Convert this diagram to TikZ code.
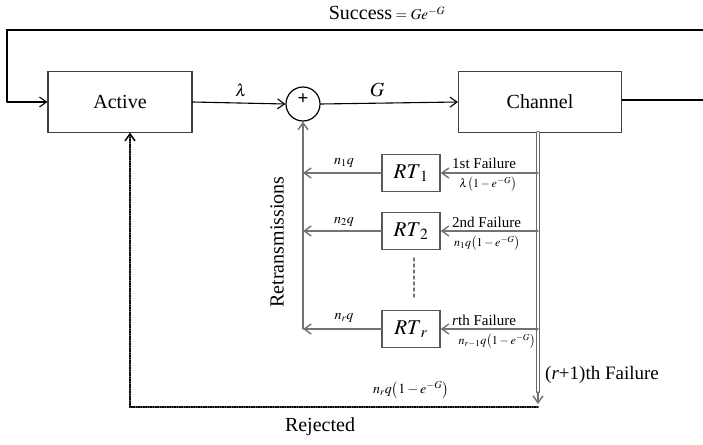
\documentclass[tikz,border=0pt]{standalone}
\usepackage{mathptmx}
\usepackage{fontspec}
\setmainfont{Liberation Serif}
\usetikzlibrary{arrows.meta}

\begin{document}
\begin{tikzpicture}[x=1pt,y=-1pt,cap=round,>={Straight Barb[length=7pt,width=10pt]},
        block/.style={draw=black!75,line width=1.2pt,inner sep=0pt,font=\fontsize{20}{22}\selectfont},
        rtbox/.style={draw=black!65,line width=1.3pt,minimum width=58pt,minimum height=37pt,inner sep=0pt,font=\fontsize{21}{23}\selectfont},
        retx/.style={draw=black!55,line width=1.4pt},
        lbl/.style={font=\fontsize{14}{16}\selectfont,inner sep=0pt},
        fail/.style={font=\fontsize{15}{17}\selectfont,inner sep=0pt,anchor=base west},
        rate/.style={font=\fontsize{12}{14}\selectfont,inner sep=0pt,anchor=north},
        big/.style={font=\fontsize{20}{22}\selectfont,inner sep=0pt}]
            \useasboundingbox (0,0) rectangle (703,444);

            % the main blocks
            \node[block,minimum width=144pt,minimum height=61pt] (active) at (120,102) {Active};
            \node[block,minimum width=163pt,minimum height=61pt] (channel) at (540,102) {Channel};
            \node[draw,circle,line width=1.2pt,minimum size=34pt,inner sep=0pt,
                label={[font=\bfseries\fontsize{19}{19}\selectfont,yshift=5pt]center:+}] (sum) at (303,104) {};

            % the retransmission boxes
            \node[rtbox] (rt1) at (411,173) {$RT_{\;1}$};
            \node[rtbox] (rt2) at (411,231) {$RT_{\;2}$};
            \node[rtbox] (rtr) at (411,329) {$RT_{\;r}$};

            % free ends of the connectors
            \coordinate (topr) at (703,30);
            \coordinate (topl) at (7,30);
            \coordinate (inl) at (7,102);
            \coordinate (outr) at (703,100);
            \coordinate (tap) at (538,132.6);
            \coordinate (tapend) at (538,392);
            \coordinate (tapbot) at (538,404);
            \coordinate (rejr) at (538,407);
            \coordinate (rejl) at (130,407);
            \coordinate (actin) at (130,132.6);
            \coordinate (retbot) at (303,329);

            % success loop
            \draw[line width=1.1pt] (topr) -- (topl) -- (inl);
            \draw[->,line width=1.1pt] (inl) -- (active.west);
            \draw[->,line width=1.1pt] (active.east) -- (sum.west);
            \draw[->,line width=1.1pt] (sum.east) -- (channel.west);
            \draw[line width=1.1pt] (channel.east |- outr) -- (outr);

            % failures leaving the channel
            \draw[draw=black!60,line width=1pt,double=white,double distance=1.4pt] (tap) -- (tapend);
            \draw[->,retx] (tapend) -- (tapbot);
            \draw[->,retx] (tap |- rt1.east) -- (rt1.east);
            \draw[->,retx] (tap |- rt2.east) -- (rt2.east);
            \draw[->,retx] (tap |- rtr.east) -- (rtr.east);

            % retransmissions back to the sum
            \draw[->,retx] (rt1.west) -- (retbot |- rt1.west);
            \draw[->,retx] (rt2.west) -- (retbot |- rt2.west);
            \draw[->,retx] (rtr.west) -- (retbot);
            \draw[->,retx] (retbot) -- (sum.south);
            \draw[retx,dashed] (414,258) -- (414,297);

            % rejected packets
            \draw[->,line width=1.5pt,dash pattern=on 1.2pt off 1.2pt] (rejr) -- (rejl) -- (actin);

            % text on the lines
            \node[big,anchor=base] at (387,20) {Success\,{\fontsize{15}{15}\selectfont$=Ge^{-G}$}};
            \node[lbl,font=\fontsize{17}{17}\selectfont] at (241,90) {$\lambda$};
            \node[big] at (377,90) {$G$};
            \node[lbl] at (344,163) {$n_1q$};
            \node[lbl] at (344,222) {$n_2q$};
            \node[lbl] at (344,318) {$n_rq$};
            \node[fail] at (452,168) {1st Failure};
            \node[fail] at (452,227) {2nd Failure};
            \node[fail] at (452,325) {\textit{r}th Failure};
            \node[rate] at (488,177) {$\lambda\bigl(1-e^{-G}\bigr)$};
            \node[rate] at (487,236) {$n_1q\bigl(1-e^{-G}\bigr)$};
            \node[rate] at (497,334) {$n_{r-1}q\bigl(1-e^{-G}\bigr)$};
            \node[lbl,font=\fontsize{19}{21}\selectfont,anchor=west] at (545,375) {(\textit{r}+1)th Failure};
            \node[lbl] at (411,390) {$n_rq\bigl(1-e^{-G}\bigr)$};
            \node[big] at (320,427) {Rejected};
            \node[big,rotate=90] at (277,242) {Retransmissions};

        \end{tikzpicture}
\end{document}
